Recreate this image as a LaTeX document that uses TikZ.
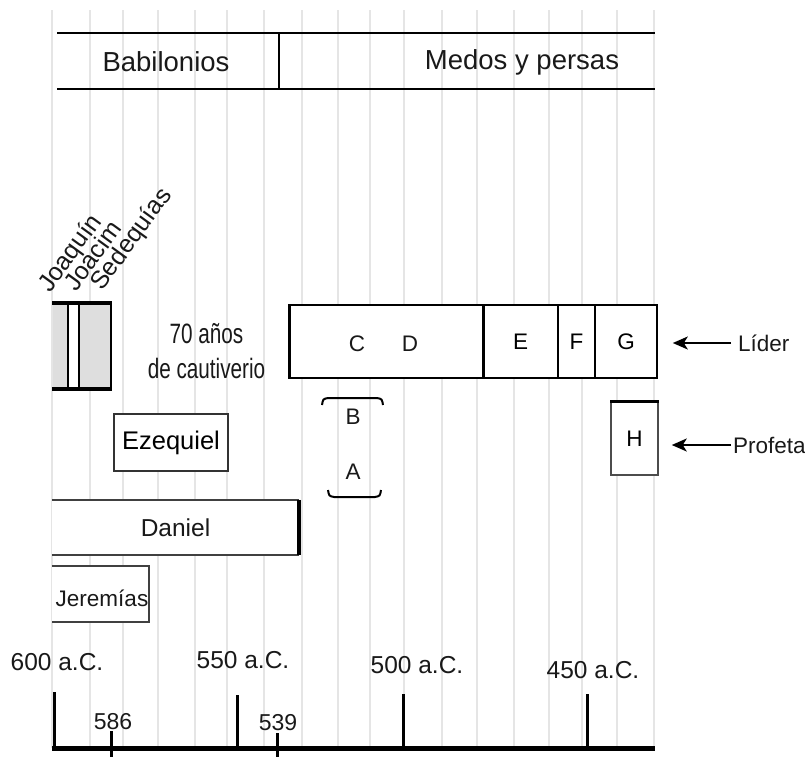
\documentclass[tikz,border=0pt]{standalone}
\usepackage{fontspec}
\setmainfont{Liberation Sans}
\newfontfamily\narrowfont[FakeStretch=0.74]{Liberation Sans}
\usetikzlibrary{arrows.meta}
\newcommand\fsz[1]{\fontsize{#1}{#1}\selectfont}
\begin{document}
\begin{tikzpicture}[x=1pt,y=-1pt,
  gridline/.style={draw=black!10, line width=2.6pt},
  bandline/.style={draw=black, line width=2.4pt},
  boxn/.style={draw=black, line width=2pt, fill=white, inner sep=0pt},
  lbl/.style={inner sep=0pt, text=black!90},
  kinglbl/.style={inner sep=0pt, text=black!90, font=\fsz{25}, rotate=54, anchor=base west},
  arr/.style={-{Stealth[length=15pt,width=13pt,inset=4pt]}, line width=2pt},
  tick/.style={line width=3pt},
]
\useasboundingbox (0,0) rectangle (805,757);
% grid
\foreach \x in {52,90,123,158,195,227,264,302,338,370,404,442,477,514,549,582,617,654}
  \draw[gridline] (\x,10) -- (\x,748);
% top band
\draw[bandline] (57,33) -- (655,33);
\draw[bandline] (57,89) -- (655,89);
\draw[bandline] (279,33) -- (279,89);
\node[lbl, font=\fsz{27.5}] (bab) at (166,62) {Babilonios};
\node[lbl, font=\fsz{27.5}] (med) at (522,62) {Medos y persas};
% kings box
\fill[black!13] (53,303) rectangle (111,389);
\fill[white] (68,303) rectangle (79,389);
\draw[line width=2pt] (68,303) -- (68,389);
\draw[line width=2pt] (79,303) -- (79,389);
\draw[line width=2pt] (111,303) -- (111,389);
\draw[line width=3.5pt] (52,303) -- (112,303);
\draw[line width=3.5pt] (52,389) -- (112,389);
\node[kinglbl] (joaquin) at (50,294) {Joaquín};
\node[kinglbl] (joacim) at (76,293) {Joacim};
\node[kinglbl] (sedequias) at (102,292) {Sedequías};
% 70 anos
\node[lbl, font=\narrowfont\fsz{28}, anchor=base] (setenta) at (206.5,343) {70 años};
\node[lbl, font=\narrowfont\fsz{28}, anchor=base] (cautiverio) at (206.5,378) {de cautiverio};
% leader boxes
\node[boxn, minimum width=193pt, minimum height=73pt] (CD) at (386.5,341.5) {};
\draw[line width=3pt] (CD.north west) -- (CD.south west);
\node[lbl, font=\fsz{22.5}] (C) at (357,344) {C};
\node[lbl, font=\fsz{22.5}] (D) at (410,344) {D};
\node[boxn, minimum width=75pt, minimum height=73pt, font=\fsz{22.5}] (E) at (520.5,341.5) {E};
\node[boxn, minimum width=37pt, minimum height=73pt, font=\fsz{22.5}, line width=1.6pt] (F) at (576.5,341.5) {F};
\node[boxn, minimum width=62pt, minimum height=73pt, font=\fsz{22.5}, line width=1.6pt] (G) at (626,341.5) {G};
\draw[line width=2.4pt] (CD.north east) -- (CD.south east);
% prophets
\node[boxn, draw=black!70, line width=1.5pt, minimum width=47pt, minimum height=73pt, font=\fsz{22.5}] (H) at (634.5,438.5) {H};
\draw[line width=2.5pt] (H.north west) -- (H.north east);
\node[boxn, draw=black!80, minimum width=114pt, minimum height=57pt, font=\fsz{25.5}] (ezequiel) at (171,442.5) {Ezequiel};
\node[lbl, fill=white, minimum width=247pt, minimum height=55pt, font=\fsz{24.5}] (daniel) at (175.5,527.5) {Daniel};
\draw[draw=black!75, line width=2pt] (daniel.north west) -- (daniel.north east);
\draw[draw=black!75, line width=2pt] (daniel.south west) -- (daniel.south east);
\draw[line width=3.5pt] (daniel.north east) -- (daniel.south east);
\node[lbl, fill=white, minimum width=97pt, minimum height=56pt] (jerbox) at (100.5,594) {};
\node[lbl, font=\fsz{22.5}] (jeremias) at (102,598) {Jeremías};
\draw[draw=black!75, line width=2pt] (jerbox.north west) -- (jerbox.north east) -- (jerbox.south east) -- (jerbox.south west);
% brackets
\draw[line width=2pt] (322,405) .. controls (323,399) .. (328,398) -- (377,398) .. controls (382,399) .. (383,405);
\draw[line width=2pt] (328,490) .. controls (329,496) .. (334,497) -- (375,497) .. controls (380,496) .. (381,490);
\node[lbl, font=\fsz{22.5}] (B) at (353,417) {B};
\node[lbl, font=\fsz{22.5}] (A) at (353,472) {A};
% side labels
\node[lbl, font=\fsz{22.5}, anchor=west] (lider) at (738,343) {Líder};
\node[lbl, font=\fsz{22.5}, anchor=west] (profeta) at (733,445) {Profeta};
\draw[arr] ([xshift=-7pt]lider.west) -- ([xshift=15pt]lider.west -| G.east);
\draw[arr] ([xshift=-2pt]profeta.west) -- ([xshift=13pt]profeta.west -| H.east);
% axis
\draw[line width=5pt] (52,748) -- (655,748);
\draw[tick] (54,692) -- (54,748);
\draw[tick] (237,695) -- (237,748);
\draw[tick] (403,694) -- (403,748);
\draw[tick] (587,694) -- (587,748);
\draw[tick] (111,731) -- (111,757);
\draw[tick] (277,733) -- (277,757);
\node[lbl, font=\fsz{24.5}] (y600) at (57,662) {600 a.C.};
\node[lbl, font=\fsz{24.5}] (y550) at (243,660) {550 a.C.};
\node[lbl, font=\fsz{24.5}] (y500) at (417,665) {500 a.C.};
\node[lbl, font=\fsz{24.5}] (y450) at (593,670) {450 a.C.};
\node[lbl, font=\fsz{23}] (y586) at (113,722) {586};
\node[lbl, font=\fsz{23}] (y539) at (278,723) {539};
\end{tikzpicture}
\end{document}
